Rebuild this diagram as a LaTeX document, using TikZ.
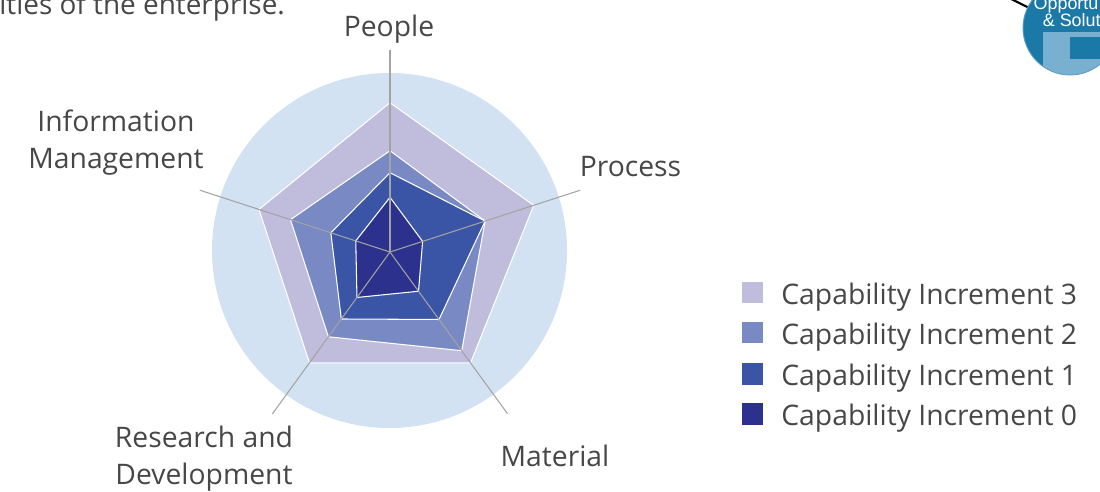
\documentclass[tikz,border=0pt]{standalone}
\usepackage{fontspec}
\setmainfont{Open Sans}
\newfontfamily\arialfont{Liberation Sans}
\definecolor{bgblue}{HTML}{D2E2F3}
\definecolor{incthree}{HTML}{C0BCDC}
\definecolor{inctwo}{HTML}{7889C4}
\definecolor{incone}{HTML}{3A55A6}
\definecolor{inczero}{HTML}{2B318C}
\definecolor{axisgray}{HTML}{A3A3A3}
\definecolor{txtgray}{HTML}{474747}
\definecolor{oppdark}{HTML}{1B79A8}
\definecolor{opplight}{HTML}{7AB0CF}
\definecolor{oppedge}{HTML}{5E9FC6}
\begin{document}
\begin{tikzpicture}[x=0.02cm,y=0.02cm,
  lbl/.style={font=\fontsize{16.1pt}{21pt}\selectfont, text=txtgray, inner sep=0pt},
  poly/.style={draw=white, line width=0.6pt},
  axisline/.style={draw=axisgray, line width=0.6pt},
  legsq/.style={minimum size=0.434cm, inner sep=0pt, draw=none},
  opptxt/.style={font=\arialfont\fontsize{10.2pt}{12pt}\selectfont, text=white, inner sep=0pt, anchor=base west}]
\useasboundingbox (0,0) rectangle (1100,-491);

% intro text (clipped at the top)
\node[font=\fontsize{15.9pt}{18pt}\selectfont, text=txtgray, inner sep=0pt, anchor=base west] (intro) at (-1,-14) {ities of the enterprise.};

% top-right partial circle
\begin{scope}
  \clip (1070,-28) circle (47);
  \fill[oppdark] (1070,-28) circle (47);
  \fill[opplight] (1043.3,-31.7) rectangle (1130,-100);
  \fill[oppdark] (1070,-36.7) rectangle (1130,-59.3);
\end{scope}
\node[circle, draw=oppedge, line width=0.5pt, minimum size=1.88cm, inner sep=0pt] (opp) at (1070,-28) {};
\coordinate (oppline) at (1001,6);
\draw[black, line width=1.2pt] (oppline) -- (opp);
\node[opptxt] (opp1) at (1033.3,-9.3) {Opportu};
\node[opptxt] (opp2) at (1042.5,-26.7) {\& Solut};

% radar chart
\coordinate (c) at (390,-252);
\fill[bgblue] (389.5,-250.5) circle (177.5);
\filldraw[incthree, poly, shift={(c)}] (90:149.3) -- (18:151.1) -- (-54:137) -- (-126:137) -- (162:137.8) -- cycle;
\filldraw[inctwo, poly, shift={(c)}] (90:101.3) -- (18:100) -- (-54:122) -- (-126:104.8) -- (162:104.6) -- cycle;
\filldraw[incone, poly, shift={(c)}] (90:79.3) -- (18:100) -- (-54:83.4) -- (-126:82.8) -- (162:62.2) -- cycle;
\filldraw[inczero, poly, shift={(c)}] (90:54.7) -- (18:34.3) -- (-54:48.5) -- (-126:56.2) -- (162:36) -- cycle;

\path[shift={(c)}] (90:202) coordinate (aPeople) (18:200) coordinate (aProcess)
  (-54:200) coordinate (aMaterial) (-126:200) coordinate (aRD) (162:200) coordinate (aInfo);
\draw[axisline] (c) -- (aPeople);
\draw[axisline] (c) -- (aProcess);
\draw[axisline] (c) -- (aMaterial);
\draw[axisline] (c) -- (aRD);
\draw[axisline] (c) -- (aInfo);

% axis labels
\node[lbl, anchor=base] (people) at (389,-36) {People};
\node[lbl, anchor=base] (process) at (630.5,-176.7) {Process};
\node[lbl, anchor=base] (material) at (555,-466) {Material};
\node[lbl, anchor=base, align=center] (info) at (116,-168) {Information\\Management};
\node[lbl, anchor=base, align=center] (rd) at (204,-484) {Research and\\Development};

% legend
\node[legsq, fill=incthree] (l3) at (752.5,-292.5) {};
\node[legsq, fill=inctwo] (l2) at (752.5,-332.5) {};
\node[legsq, fill=incone] (l1) at (752.5,-374) {};
\node[legsq, fill=inczero] (l0) at (752.5,-414) {};
\node[lbl, anchor=base west] (t3) at (781,-304) {Capability Increment 3};
\node[lbl, anchor=base west] (t2) at (781,-344) {Capability Increment 2};
\node[lbl, anchor=base west] (t1) at (781,-385) {Capability Increment 1};
\node[lbl, anchor=base west] (t0) at (781,-425) {Capability Increment 0};
\end{tikzpicture}
\end{document}
